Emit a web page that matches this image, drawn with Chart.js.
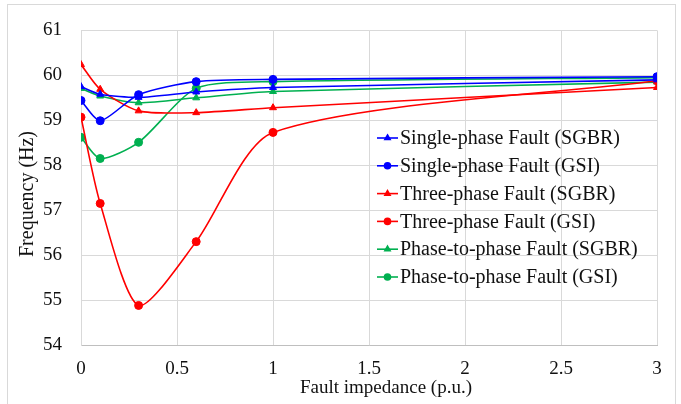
<!DOCTYPE html>
<html>
<head>
<meta charset="utf-8">
<script src="https://cdn.jsdelivr.net/npm/chart.js@4.4.1/dist/chart.umd.min.js"></script>
<style>
  html, body { margin: 0; padding: 0; background: #fff; }
  #wrap { width: 681px; height: 404px; position: relative; }
</style>
</head>
<body>
<div id="wrap"><canvas id="c" width="681" height="404"></canvas></div>
<script>
// ── Data ─────────────────────────────────────────────────────────────
const impedance = [0, 0.1, 0.3, 0.6, 1, 3];

const singleSGBR = [59.75, 59.58, 59.51, 59.63, 59.73, 59.90];
const singleGSI  = [59.44, 58.99, 59.57, 59.86, 59.91, 59.97];
const threeSGBR  = [60.24, 59.69, 59.21, 59.17, 59.28, 59.73];
const threeGSI   = [59.07, 57.15, 54.88, 56.30, 58.73, 59.88];
const phaseSGBR  = [59.71, 59.54, 59.39, 59.50, 59.64, 59.85];
const phaseGSI   = [58.62, 58.15, 58.51, 59.71, 59.86, 59.95];

const seriesNames = [
  'Single-phase Fault (SGBR)',
  'Single-phase Fault (GSI)',
  'Three-phase Fault (SGBR)',
  'Three-phase Fault (GSI)',
  'Phase-to-phase Fault (SGBR)',
  'Phase-to-phase Fault (GSI)'
];

const xTitle = 'Fault impedance (p.u.)';
const yTitle = 'Frequency (Hz)';

const BLUE = '#0000ff', RED = '#ff0000', GREEN = '#00b050';
const FONT = "'Liberation Serif', 'Times New Roman', serif";

function toPoints(ys) {
  return ys.map((y, i) => ({ x: impedance[i], y: y }));
}

function series(name, ys, color, shape) {
  return {
    label: name,
    data: toPoints(ys),
    borderColor: color,
    backgroundColor: color,
    borderWidth: 1.6,
    pointStyle: shape,
    pointRadius: 4,
    pointBorderWidth: 1,
    showLine: true,
    tension: 0.25,
    fill: false
  };
}

const datasets = [
  series(seriesNames[0], singleSGBR, BLUE, 'triangle'),
  series(seriesNames[1], singleGSI, BLUE, 'circle'),
  series(seriesNames[2], threeSGBR, RED, 'triangle'),
  series(seriesNames[3], threeGSI, RED, 'circle'),
  series(seriesNames[4], phaseSGBR, GREEN, 'triangle'),
  series(seriesNames[5], phaseGSI, GREEN, 'circle')
];

// ── Frame, axis titles and in-plot legend ────────────────────────────
const frame = {
  id: 'frame',
  beforeDraw(chart) {
    const ctx = chart.ctx;
    ctx.save();
    ctx.fillStyle = '#fff';
    ctx.fillRect(0, 0, chart.width, chart.height);
    ctx.strokeStyle = '#d9d9d9';
    ctx.lineWidth = 1;
    ctx.strokeRect(7.5, 4.5, 668, 410);

    ctx.fillStyle = '#111';
    ctx.font = '19px ' + FONT;
    ctx.textAlign = 'center';
    ctx.textBaseline = 'middle';
    ctx.fillText(xTitle, 386, 388);
    ctx.translate(28, 194);
    ctx.rotate(-Math.PI / 2);
    ctx.font = '20px ' + FONT;
    ctx.fillText(yTitle, 0, 0);
    ctx.restore();
  }
};

const insideLegend = {
  id: 'insideLegend',
  afterDraw(chart) {
    const ctx = chart.ctx;
    const x0 = 377, x1 = 398, tx = 400;
    let y = 138;
    ctx.save();
    ctx.font = '20px ' + FONT;
    ctx.textBaseline = 'middle';
    datasets.forEach(ds => {
      ctx.strokeStyle = ds.borderColor;
      ctx.fillStyle = ds.borderColor;
      ctx.lineWidth = 1.6;
      ctx.beginPath();
      ctx.moveTo(x0, y);
      ctx.lineTo(x1, y);
      ctx.stroke();
      Chart.helpers.drawPoint(ctx, { pointStyle: ds.pointStyle, radius: 3, borderWidth: 1 }, (x0 + x1) / 2, y);
      ctx.fillStyle = '#111';
      ctx.fillText(ds.label, tx, y + 1);
      y += 27.8;
    });
    ctx.restore();
  }
};

new Chart(document.getElementById('c'), {
  type: 'scatter',
  data: { datasets: datasets },
  plugins: [frame, insideLegend],
  options: {
    responsive: false,
    animation: false,
    layout: { padding: { left: 7, right: 24, top: 20, bottom: 4 } },
    plugins: { legend: { display: false }, tooltip: { enabled: false } },
    scales: {
      x: {
        type: 'linear',
        min: 0, max: 3,
        ticks: {
          stepSize: 0.5, padding: 13, color: '#111',
          font: { family: FONT, size: 19 },
          callback: v => String(v)
        },
        grid: { color: '#d9d9d9', drawTicks: false },
        border: { color: '#bfbfbf' },
        afterFit(s) { s.height = 404 - 345 - 4; }
      },
      y: {
        min: 54, max: 61,
        ticks: { stepSize: 1, padding: 19, color: '#111', font: { family: FONT, size: 19 } },
        grid: { color: '#d9d9d9', drawTicks: false },
        border: { color: '#d9d9d9' },
        afterFit(s) { s.width = 81 - 7; }
      }
    }
  }
});
</script>
</body>
</html>
